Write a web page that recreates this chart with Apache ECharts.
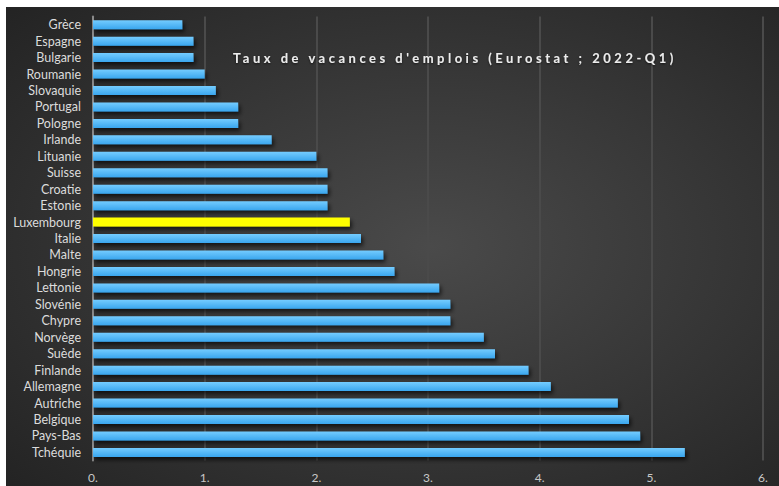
<!DOCTYPE html>
<html>
<head>
<meta charset="utf-8">
<script src="https://cdn.jsdelivr.net/npm/echarts@6/dist/echarts.min.js"></script>
<style>
  html, body { margin: 0; padding: 0; background: #ffffff; }
  #chart { position: absolute; left: 6px; top: 7px; width: 773px; height: 479px; }
</style>
</head>
<body>
<div id="chart"></div>
<script>
// Job vacancy rate by country, 2022-Q1 (listed top to bottom)
const countries = [
  'Grèce', 'Espagne', 'Bulgarie', 'Roumanie', 'Slovaquie', 'Portugal', 'Pologne',
  'Irlande', 'Lituanie', 'Suisse', 'Croatie', 'Estonie', 'Luxembourg', 'Italie',
  'Malte', 'Hongrie', 'Lettonie', 'Slovénie', 'Chypre', 'Norvège', 'Suède',
  'Finlande', 'Allemagne', 'Autriche', 'Belgique', 'Pays-Bas', 'Tchéquie'
];
const vacancyRates = [
  0.8, 0.9, 0.9, 1.0, 1.1, 1.3, 1.3,
  1.6, 2.0, 2.1, 2.1, 2.1, 2.3, 2.4,
  2.6, 2.7, 3.1, 3.2, 3.2, 3.5, 3.6,
  3.9, 4.1, 4.7, 4.8, 4.9, 5.3
];
const highlighted = 'Luxembourg';
const titleText = "Taux de vacances d'emplois (Eurostat ; 2022-Q1)";
const xTicks = [0, 1, 2, 3, 4, 5, 6];

const blueBar = {
  type: 'linear', x: 0, y: 0, x2: 0, y2: 1,
  colorStops: [{ offset: 0, color: '#74ccff' }, { offset: 1, color: '#3aa6ee' }]
};

const el = document.getElementById('chart');
const chart = echarts.init(el, null, { renderer: 'svg' });

chart.setOption({
  animation: false,
  backgroundColor: {
    type: 'radial', x: 0.55, y: 0.5, r: 0.75,
    colorStops: [
      { offset: 0, color: '#4a4a4a' },
      { offset: 1, color: '#232323' }
    ]
  },
  title: {
    text: titleText,
    left: 227, top: 44, padding: 0,
    textStyle: {
      color: '#ececec', fontSize: 13, fontWeight: 'bold',
      fontFamily: 'Lato',
      textShadowColor: 'rgba(0,0,0,0.6)', textShadowBlur: 2, textShadowOffsetY: 1
    }
  },
  grid: { left: 87, right: 16, top: 9.5, bottom: 25.4, containLabel: false },
  xAxis: {
    type: 'value',
    min: xTicks[0], max: xTicks[xTicks.length - 1], interval: 1,
    axisLine: { show: false },
    axisTick: { show: false },
    splitLine: { show: true, lineStyle: { color: '#4a4a4a', width: 2 } },
    axisLabel: {
      color: '#c8c8c8', fontSize: 12, fontFamily: 'Lato', margin: 11,
      formatter: v => v + '.'
    }
  },
  yAxis: {
    type: 'category',
    inverse: true,
    data: countries,
    axisLine: { show: true, lineStyle: { color: '#8c8c8c', width: 2 } },
    axisTick: { show: false },
    splitLine: { show: false },
    axisLabel: {
      interval: 0,
      color: '#dcdcdc', fontSize: 12.5, fontFamily: 'Lato', margin: 12
    }
  },
  series: [{
    type: 'bar',
    barWidth: 9,
    data: vacancyRates.map((v, i) => ({
      value: v,
      itemStyle: { color: countries[i] === highlighted ? '#ffff00' : blueBar }
    })),
    itemStyle: {
      shadowColor: 'rgba(0,0,0,0.65)', shadowBlur: 4, shadowOffsetX: 2, shadowOffsetY: 3
    }
  }]
});

// Spread the heading letters out
function spaceTitle() {
  el.querySelectorAll('text').forEach(t => {
    if (t.textContent === titleText) t.setAttribute('letter-spacing', '3.5');
  });
}
spaceTitle();
chart.on('finished', spaceTitle);
</script>
</body>
</html>
